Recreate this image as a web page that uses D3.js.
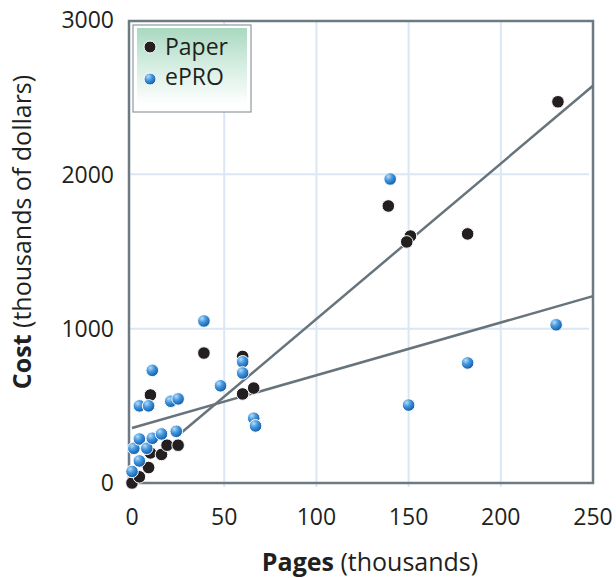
<!DOCTYPE html>
<html>
<head>
<meta charset="utf-8">
<script src="https://cdn.jsdelivr.net/npm/d3@7"></script>
<style>
  body { margin: 0; background: #fff; }
  text { font-family: 'Open Sans', 'Noto Sans', sans-serif; fill: #231f20; }
</style>
</head>
<body>
<div id="chart"></div>
<script>
// values (pages and cost in thousands)
const paperPages = [0, 4, 9, 10, 16, 19, 25, 10, 39, 60, 60, 66, 139, 151, 149, 182, 231];
const paperCost = [0, 40, 100, 195, 185, 245, 245, 570, 842, 820, 577, 615, 1795, 1600, 1562, 1614, 2470];

const eproPages = [0, 4, 1, 4, 8, 11, 16, 24, 4, 9, 11, 21, 25, 39, 48, 60, 60, 66, 67, 140, 150, 182, 230];
const eproCost = [75, 143, 225, 285, 225, 290, 318, 335, 500, 500, 730, 530, 545, 1050, 630, 785, 713, 420, 370, 1970, 505, 778, 1025];

// trend lines: [intercept, slope, from, to]
const paperFit = [56, 10.07, 24, 250];
const eproFit = [356, 3.42, 0, 250];

const xTicks = [0, 50, 100, 150, 200, 250];
const yTicks = [0, 1000, 2000, 3000];
const gridX = [50, 100, 150, 200];
const gridY = [1000, 2000];

const seriesNames = ['Paper', 'ePRO'];

const width = 616;
const height = 578;

const svg = d3.select('#chart')
  .append('svg')
  .attr('width', width)
  .attr('height', height);

const defs = svg.append('defs');

// shiny blue dot
const blueGrad = defs.append('radialGradient')
  .attr('id', 'blueDot')
  .attr('cx', '35%')
  .attr('cy', '30%')
  .attr('r', '70%');
blueGrad.append('stop').attr('offset', '0%').attr('stop-color', '#b5dbf7');
blueGrad.append('stop').attr('offset', '45%').attr('stop-color', '#4597dd');
blueGrad.append('stop').attr('offset', '100%').attr('stop-color', '#115ead');

// legend background
const legGrad = defs.append('linearGradient')
  .attr('id', 'legBg')
  .attr('x1', 0).attr('y1', 0)
  .attr('x2', 0).attr('y2', 1);
legGrad.append('stop').attr('offset', '0%').attr('stop-color', '#a9d8c0');
legGrad.append('stop').attr('offset', '45%').attr('stop-color', '#d4ede1');
legGrad.append('stop').attr('offset', '95%').attr('stop-color', '#ffffff');

const x = d3.scaleLinear()
  .domain([0, 250])
  .range([132, 593]);

const y = d3.scaleLinear()
  .domain([0, 3000])
  .range([483, 20]);

const frame = { left: 129, top: 21, right: 593, bottom: 483 };

// grid lines
svg.append('g')
  .selectAll('line')
  .data(gridX)
  .join('line')
  .attr('x1', d => x(d))
  .attr('x2', d => x(d))
  .attr('y1', frame.top)
  .attr('y2', frame.bottom + 4)
  .attr('stroke', '#dbe7f4')
  .attr('stroke-width', 2);

svg.append('g')
  .selectAll('line')
  .data(gridY)
  .join('line')
  .attr('x1', frame.left)
  .attr('x2', frame.right - 4)
  .attr('y1', d => y(d))
  .attr('y2', d => y(d))
  .attr('stroke', '#dbe7f4')
  .attr('stroke-width', 2);

// plot frame
svg.append('rect')
  .attr('x', frame.left)
  .attr('y', frame.top)
  .attr('width', frame.right - frame.left)
  .attr('height', frame.bottom - frame.top)
  .attr('fill', 'none')
  .attr('stroke', '#6d7a82')
  .attr('stroke-width', 2.5);

// tick labels
svg.append('g')
  .selectAll('text')
  .data(xTicks)
  .join('text')
  .attr('x', d => x(d))
  .attr('y', 525)
  .attr('text-anchor', 'middle')
  .style('font-size', '23px')
  .text(d => d);

svg.append('g')
  .selectAll('text')
  .data(yTicks)
  .join('text')
  .attr('x', 114)
  .attr('y', d => y(d))
  .attr('dy', '0.36em')
  .attr('text-anchor', 'end')
  .style('font-size', '23px')
  .text(d => d);

// trend lines
function fitLine (fit) {
  return d3.line()
    .x(d => x(d))
    .y(d => y(fit[0] + fit[1] * d))([fit[2], fit[3]]);
}

svg.append('path')
  .attr('d', fitLine(eproFit))
  .attr('fill', 'none')
  .attr('stroke', '#68747b')
  .attr('stroke-width', 2.5);

svg.append('path')
  .attr('d', fitLine(paperFit))
  .attr('fill', 'none')
  .attr('stroke', '#68747b')
  .attr('stroke-width', 2.5);

// points
svg.append('g')
  .selectAll('circle')
  .data(d3.range(paperPages.length))
  .join('circle')
  .attr('cx', i => x(paperPages[i]))
  .attr('cy', i => y(paperCost[i]))
  .attr('r', 6.3)
  .attr('fill', '#231f20')
  .attr('stroke', '#fff')
  .attr('stroke-width', 1);

svg.append('g')
  .selectAll('circle')
  .data(d3.range(eproPages.length))
  .join('circle')
  .attr('cx', i => x(eproPages[i]))
  .attr('cy', i => y(eproCost[i]))
  .attr('r', 6.3)
  .attr('fill', 'url(#blueDot)')
  .attr('stroke', '#fff')
  .attr('stroke-width', 1);

// legend
const legend = svg.append('g');
legend.append('rect')
  .attr('x', 133)
  .attr('y', 25)
  .attr('width', 118)
  .attr('height', 87)
  .attr('fill', '#fff')
  .attr('stroke', '#8e989e')
  .attr('stroke-width', 1.2);
legend.append('rect')
  .attr('x', 137)
  .attr('y', 28)
  .attr('width', 110)
  .attr('height', 81)
  .attr('fill', 'url(#legBg)');

legend.selectAll('circle')
  .data(seriesNames)
  .join('circle')
  .attr('cx', 150)
  .attr('cy', (d, i) => 47 + i * 32)
  .attr('r', 6)
  .attr('fill', (d, i) => i === 0 ? '#231f20' : 'url(#blueDot)')
  .attr('stroke', '#fff')
  .attr('stroke-width', 1);

legend.selectAll('text')
  .data(seriesNames)
  .join('text')
  .attr('x', 165)
  .attr('y', (d, i) => 55 + i * 30)
  .style('font-size', '23px')
  .text(d => d);

// axis titles
const xTitle = svg.append('text')
  .attr('x', 370)
  .attr('y', 571)
  .attr('text-anchor', 'middle')
  .style('font-size', '25px');
xTitle.append('tspan').style('font-weight', 'bold').text('Pages');
xTitle.append('tspan').text(' (thousands)');

const yTitle = svg.append('text')
  .attr('transform', 'translate(31, 232) rotate(-90)')
  .attr('text-anchor', 'middle')
  .style('font-size', '25px');
yTitle.append('tspan').style('font-weight', 'bold').text('Cost');
yTitle.append('tspan').text(' (thousands of dollars)');
</script>
</body>
</html>
